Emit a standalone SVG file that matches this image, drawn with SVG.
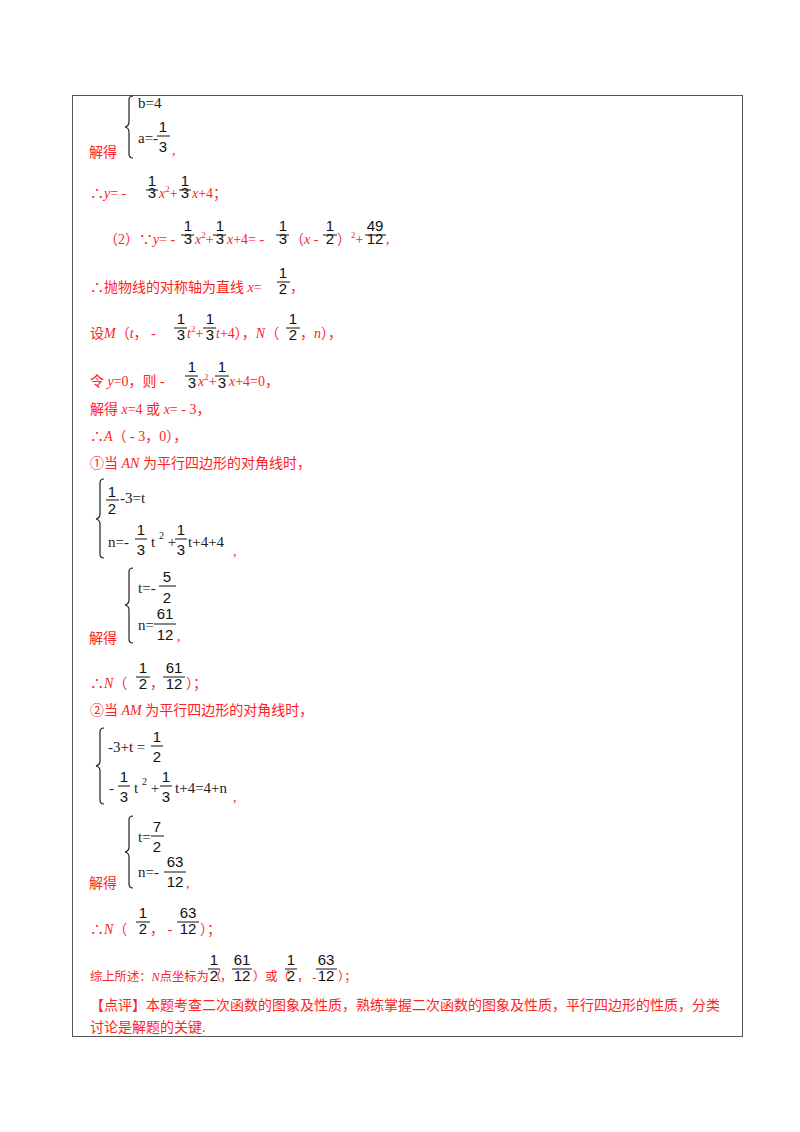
<svg xmlns="http://www.w3.org/2000/svg" width="800" height="1132" viewBox="0 0 800 1132">
<style>
.r{fill:#f22;font-family:"Liberation Serif","Noto Sans CJK SC",serif;font-size:14px}
.s{font-size:12.3px}
.f{fill:#111;font-family:"Liberation Sans",sans-serif;font-size:15px;text-anchor:middle}
.m{fill:#222;font-family:"Liberation Serif",serif;font-size:15px}
.bar{stroke:#111;stroke-width:1}
.br{fill:none;stroke:#222;stroke-width:1.2}
</style>
<rect x="72.5" y="95.5" width="670" height="941" fill="#fff" stroke="#555" stroke-width="1"/>
<g id="content">
<text class="r" x="89" y="157">解得</text>
<path class="br" d="M133,96 Q129,96 129,100 L129,122 Q129,126 125,127 Q129,128 129,132 L129,154 Q129,158 133,158"/>
<text class="m" x="138" y="108">b=4</text>
<text class="m" x="138" y="143">a=-</text>
<text class="f" x="163" y="132">1</text><line class="bar" x1="157" y1="136" x2="170" y2="136"/><text class="f" x="163" y="152">3</text>
<text class="r" x="172" y="155">,</text>
<text class="r" x="90" y="198">∴<tspan font-style="italic">y</tspan>= - </text>
<text class="f" x="152" y="186">1</text><line class="bar" x1="146" y1="190" x2="158" y2="190"/><text class="f" x="152" y="198">3</text>
<text class="r" x="159" y="198"><tspan font-style="italic">x</tspan><tspan font-size="9" dy="-6">2</tspan><tspan dy="6">+</tspan></text>
<text class="f" x="185" y="186">1</text><line class="bar" x1="179" y1="190" x2="191" y2="190"/><text class="f" x="185" y="198">3</text>
<text class="r" x="192" y="198"><tspan font-style="italic">x</tspan>+4；</text>
<text class="r" x="104" y="244">（2）∵<tspan font-style="italic">y</tspan>= - </text>
<text class="f" x="188" y="231">1</text><line class="bar" x1="181" y1="235" x2="194" y2="235"/><text class="f" x="188" y="244">3</text>
<text class="r" x="195" y="244"><tspan font-style="italic">x</tspan><tspan font-size="9" dy="-6">2</tspan><tspan dy="6">+</tspan></text>
<text class="f" x="220" y="231">1</text><line class="bar" x1="213" y1="235" x2="226" y2="235"/><text class="f" x="220" y="244">3</text>
<text class="r" x="227" y="244"><tspan font-style="italic">x</tspan>+4= - </text>
<text class="f" x="283" y="231">1</text><line class="bar" x1="276" y1="235" x2="289" y2="235"/><text class="f" x="283" y="244">3</text>
<text class="r" x="290" y="244">（<tspan font-style="italic">x</tspan> - </text>
<text class="f" x="330" y="231">1</text><line class="bar" x1="323" y1="235" x2="337" y2="235"/><text class="f" x="330" y="244">2</text>
<text class="r" x="337" y="244">）<tspan font-size="9" dy="-6">2</tspan><tspan dy="6">+</tspan></text>
<text class="f" x="375" y="231">49</text><line class="bar" x1="365" y1="235" x2="386" y2="235"/><text class="f" x="375" y="244">12</text>
<text class="r" x="386" y="244">,</text>
<text class="r" x="90" y="292">∴抛物线的对称轴为直线 <tspan font-style="italic">x</tspan>=</text>
<text class="f" x="283" y="278">1</text><line class="bar" x1="277" y1="282" x2="290" y2="282"/><text class="f" x="283" y="294">2</text>
<text class="r" x="290" y="292">，</text>
<text class="r" x="90" y="338">设<tspan font-style="italic">M</tspan>（<tspan font-style="italic">t</tspan>， - </text>
<text class="f" x="181" y="324">1</text><line class="bar" x1="174" y1="328" x2="187" y2="328"/><text class="f" x="181" y="340">3</text>
<text class="r" x="187" y="338"><tspan font-style="italic">t</tspan><tspan font-size="9" dy="-6">2</tspan><tspan dy="6">+</tspan></text>
<text class="f" x="210" y="324">1</text><line class="bar" x1="203" y1="328" x2="216" y2="328"/><text class="f" x="210" y="340">3</text>
<text class="r" x="216" y="338"><tspan font-style="italic">t</tspan>+4），<tspan font-style="italic">N</tspan>（</text>
<text class="f" x="293" y="324">1</text><line class="bar" x1="286" y1="328" x2="300" y2="328"/><text class="f" x="293" y="340">2</text>
<text class="r" x="300" y="338">，<tspan font-style="italic">n</tspan>），</text>
<text class="r" x="90" y="386">令 <tspan font-style="italic">y</tspan>=0，则 - </text>
<text class="f" x="192" y="372">1</text><line class="bar" x1="185" y1="376" x2="198" y2="376"/><text class="f" x="192" y="388">3</text>
<text class="r" x="198" y="386"><tspan font-style="italic">x</tspan><tspan font-size="9" dy="-6">2</tspan><tspan dy="6">+</tspan></text>
<text class="f" x="222" y="372">1</text><line class="bar" x1="215" y1="376" x2="229" y2="376"/><text class="f" x="222" y="388">3</text>
<text class="r" x="229" y="386"><tspan font-style="italic">x</tspan>+4=0，</text>
<text class="r" x="90" y="414">解得 <tspan font-style="italic">x</tspan>=4 或 <tspan font-style="italic">x</tspan>= - 3，</text>
<text class="r" x="90" y="441">∴<tspan font-style="italic">A</tspan>（ - 3，0），</text>
<text class="r" x="90" y="468">①当 <tspan font-style="italic">AN</tspan> 为平行四边形的对角线时，</text>
<path class="br" d="M104,479 Q100,479 100,483 L100,514 Q100,518 96,519 Q100,520 100,524 L100,554 Q100,558 104,558"/>
<text class="f" x="112" y="497">1</text><line class="bar" x1="106" y1="500" x2="119" y2="500"/><text class="f" x="112" y="514">2</text>
<text class="m" x="120" y="503">-3=t</text>
<text class="m" x="108" y="547">n=-</text>
<text class="f" x="141" y="535">1</text><line class="bar" x1="135" y1="539" x2="147" y2="539"/><text class="f" x="141" y="555">3</text>
<text class="m" x="151" y="547">t <tspan font-size="10" dy="-8">2</tspan><tspan dy="8"> +</tspan></text>
<text class="f" x="181" y="535">1</text><line class="bar" x1="175" y1="539" x2="187" y2="539"/><text class="f" x="181" y="555">3</text>
<text class="m" x="188" y="547">t+4+4</text>
<text class="r" x="233" y="556">,</text>
<text class="r" x="89" y="643">解得</text>
<path class="br" d="M133,568 Q129,568 129,572 L129,600 Q129,604 125,605 Q129,606 129,610 L129,639 Q129,643 133,643"/>
<text class="m" x="138" y="593">t=-</text>
<text class="f" x="167" y="582">5</text><line class="bar" x1="159" y1="586" x2="176" y2="586"/><text class="f" x="167" y="603">2</text>
<text class="m" x="138" y="630">n=</text>
<text class="f" x="165" y="619">61</text><line class="bar" x1="154" y1="624" x2="176" y2="624"/><text class="f" x="165" y="640">12</text>
<text class="r" x="177" y="641">,</text>
<text class="r" x="90" y="688">∴<tspan font-style="italic">N</tspan>（</text>
<text class="f" x="143" y="673">1</text><line class="bar" x1="136" y1="677" x2="150" y2="677"/><text class="f" x="143" y="689">2</text>
<text class="r" x="150" y="688">，</text>
<text class="f" x="174" y="673">61</text><line class="bar" x1="163" y1="677" x2="185" y2="677"/><text class="f" x="174" y="689">12</text>
<text class="r" x="186" y="688">）；</text>
<text class="r" x="90" y="715">②当 <tspan font-style="italic">AM</tspan> 为平行四边形的对角线时，</text>
<path class="br" d="M104,728 Q100,728 100,732 L100,761 Q100,765 96,766 Q100,767 100,771 L100,800 Q100,804 104,804"/>
<text class="m" x="108" y="752">-3+t =</text>
<text class="f" x="157" y="742">1</text><line class="bar" x1="151" y1="746" x2="163" y2="746"/><text class="f" x="157" y="762">2</text>
<text class="m" x="109" y="793">-</text>
<text class="f" x="124" y="782">1</text><line class="bar" x1="118" y1="786" x2="130" y2="786"/><text class="f" x="124" y="802">3</text>
<text class="m" x="134" y="793">t <tspan font-size="10" dy="-8">2</tspan><tspan dy="8"> +</tspan></text>
<text class="f" x="166" y="782">1</text><line class="bar" x1="160" y1="786" x2="172" y2="786"/><text class="f" x="166" y="802">3</text>
<text class="m" x="175" y="793">t+4=4+n</text>
<text class="r" x="233" y="802">,</text>
<text class="r" x="89" y="888">解得</text>
<path class="br" d="M133,816 Q129,816 129,820 L129,847 Q129,851 125,852 Q129,853 129,857 L129,884 Q129,888 133,888"/>
<text class="m" x="138" y="842">t=</text>
<text class="f" x="157" y="832">7</text><line class="bar" x1="151" y1="836" x2="164" y2="836"/><text class="f" x="157" y="852">2</text>
<text class="m" x="138" y="877">n=-</text>
<text class="f" x="175" y="867">63</text><line class="bar" x1="164" y1="872" x2="186" y2="872"/><text class="f" x="175" y="887">12</text>
<text class="r" x="186" y="888">,</text>
<text class="r" x="90" y="934">∴<tspan font-style="italic">N</tspan>（</text>
<text class="f" x="143" y="918">1</text><line class="bar" x1="136" y1="922" x2="150" y2="922"/><text class="f" x="143" y="934">2</text>
<text class="r" x="150" y="934">， - </text>
<text class="f" x="188" y="918">63</text><line class="bar" x1="177" y1="922" x2="199" y2="922"/><text class="f" x="188" y="934">12</text>
<text class="r" x="200" y="934">）；</text>
<text class="r s" x="90" y="981">综上所述：<tspan font-style="italic">N</tspan>点坐标为（</text>
<text class="f" x="214" y="965">1</text><line class="bar" x1="208" y1="969" x2="220" y2="969"/><text class="f" x="214" y="981">2</text>
<text class="r s" x="220" y="981">，</text>
<text class="f" x="242" y="965">61</text><line class="bar" x1="232" y1="969" x2="252" y2="969"/><text class="f" x="242" y="981">12</text>
<text class="r s" x="253" y="981">）或（</text>
<text class="f" x="291" y="965">1</text><line class="bar" x1="285" y1="969" x2="297" y2="969"/><text class="f" x="291" y="981">2</text>
<text class="r s" x="297" y="981">， - </text>
<text class="f" x="326" y="965">63</text><line class="bar" x1="316" y1="969" x2="337" y2="969"/><text class="f" x="326" y="981">12</text>
<text class="r s" x="338" y="981">）；</text>
<text class="r" x="90" y="1010">【点评】本题考查二次函数的图象及性质，熟练掌握二次函数的图象及性质，平行四边形的性质，分类</text>
<text class="r" x="90" y="1032">讨论是解题的关键.</text>
</g>
</svg>
